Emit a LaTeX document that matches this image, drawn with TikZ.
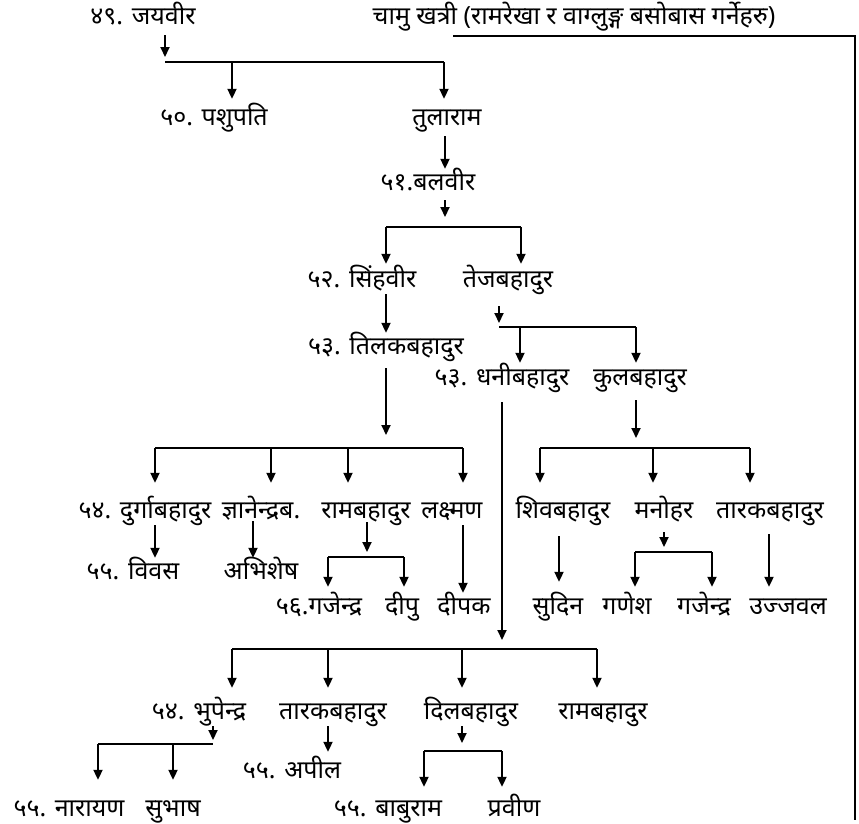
\documentclass[tikz,border=0pt]{standalone}
\usepackage{fontspec}
\newfontfamily\devfont[Script=Devanagari]{Noto Sans}
\usetikzlibrary{arrows.meta}

\begin{document}
\begin{tikzpicture}[
        x=1pt, y=-1pt,
        font=\devfont\fontsize{25}{28}\selectfont,
        person/.style={inner xsep=0pt, inner ysep=1.5pt, text height=20pt, text depth=5pt},
        arr/.style={line width=2pt, -{Triangle[width=9pt, length=10pt]}},
        bar/.style={line width=2pt}
    ]
        \useasboundingbox (0,0) rectangle (859,823);

        \node [person] (jay) at (143,17) {४९. जयवीर};
        \node [person] (chamu) at (574,17) {चामु खत्री (रामरेखा र वाग्लुङ्ग बसोबास गर्नेहरु)};
        \node [person] (pashu) at (214,118) {५०. पशुपति};
        \node [person] (tula) at (447,118) {तुलाराम};
        \node [person] (bal) at (428,183) {५१.बलवीर};
        \node [person] (sinha) at (362,280) {५२. सिंहवीर};
        \node [person] (teja) at (508,280) {तेजबहादुर};
        \node [person] (tilak) at (386,347) {५३. तिलकबहादुर};
        \node [person] (dhani) at (502,378) {५३. धनीबहादुर};
        \node [person] (kul) at (640,378) {कुलबहादुर};
        \node [person] (durga) at (145,511) {५४. दुर्गाबहादुर};
        \node [person] (gyan) at (261,511) {ज्ञानेन्द्रब.};
        \node [person] (ram) at (366,511) {रामबहादुर};
        \node [person] (lax) at (452,511) {लक्ष्मण};
        \node [person] (shiv) at (563,511) {शिवबहादुर};
        \node [person] (mano) at (664,511) {मनोहर};
        \node [person] (tarak) at (770,511) {तारकबहादुर};
        \node [person] (bibas) at (133,572) {५५. विवस};
        \node [person] (abhi) at (261,572) {अभिशेष};
        \node [person] (gaje) at (319,607) {५६.गजेन्द्र};
        \node [person] (dipu) at (402,607) {दीपु};
        \node [person] (dipak) at (464,607) {दीपक};
        \node [person] (sudin) at (558,607) {सुदिन};
        \node [person] (ganesh) at (627,607) {गणेश};
        \node [person] (gajendra) at (704,607) {गजेन्द्र};
        \node [person] (ujjwal) at (788,607) {उज्जवल};
        \node [person] (bhup) at (199,712) {५४. भुपेन्द्र};
        \node [person] (tarakb) at (333,712) {तारकबहादुर};
        \node [person] (dil) at (471,712) {दिलबहादुर};
        \node [person] (ramb) at (603,712) {रामबहादुर};
        \node [person] (apil) at (292,771) {५५. अपील};
        \node [person] (naray) at (69,809) {५५. नारायण};
        \node [person] (subhash) at (173,809) {सुभाष};
        \node [person] (baburam) at (388,809) {५५. बाबुराम};
        \node [person] (prabin) at (514,809) {प्रवीण};

        \coordinate (jayb) at (165,62);
        \coordinate (balb) at (445,227);
        \coordinate (tejab) at (499,327);
        \coordinate (tilakb) at (386,448);
        \coordinate (kulb) at (636,448);
        \coordinate (rambar) at (367,557);
        \coordinate (manob) at (664,552);
        \coordinate (dhanib) at (502,649);
        \coordinate (bhupb) at (213,744);
        \coordinate (dilb) at (462,751);
        \coordinate (cl) at (453,36);
        \coordinate (cb) at (855,820);

        \draw [bar] (cl) -| (cb);

        \draw [arr, shorten <=4pt] (jayb |- jay.south) -- ([yshift=5pt]jayb);
        \draw [bar] (jayb) -- (444,0 |- jayb);
        \foreach \x/\n in {232/pashu, 444/tula}
            \draw [arr, shorten >=5pt] (\x,0 |- jayb) -- (\x,0 |- \n.north);

        \draw [arr, shorten <=4pt] (balb |- tula.south) -- (balb |- bal.north);

        \draw [arr, shorten <=3pt] (balb |- bal.south) -- ([yshift=10pt]balb);
        \draw [bar] (386,0 |- balb) -- (521,0 |- balb);
        \foreach \x/\n in {386/sinha, 521/teja}
            \draw [arr, shorten >=2pt] (\x,0 |- balb) -- (\x,0 |- \n.north);

        \draw [arr] (tilakb |- sinha.south) -- (tilakb |- tilak.north);

        \draw [arr, shorten <=12pt] (tejab |- teja.south) -- ([yshift=4pt]tejab);
        \draw [bar] (tejab) -- (636,0 |- tejab);
        \foreach \x/\n in {520/dhani, 636/kul}
            \draw [arr, shorten >=1pt] (\x,0 |- tejab) -- (\x,0 |- \n.north);

        \draw [arr, shorten <=7pt] (tilakb |- tilak.south) -- ([yshift=13pt]tilakb);
        \draw [bar] (155,0 |- tilakb) -- (463,0 |- tilakb);
        \foreach \x/\n in {155/durga, 271/gyan, 348/ram, 463/lax}
            \draw [arr, shorten >=14pt] (\x,0 |- tilakb) -- (\x,0 |- \n.north);

        \draw [arr, shorten <=8pt] (kulb |- kul.south) -- ([yshift=10pt]kulb);
        \draw [bar] (540,0 |- kulb) -- (750,0 |- kulb);
        \foreach \x/\n in {540/shiv, 653/mano, 750/tarak}
            \draw [arr, shorten >=14pt] (\x,0 |- kulb) -- (\x,0 |- \n.north);

        \draw [arr] (155,0 |- durga.south) -- (155,0 |- bibas.north);
        \draw [arr, shorten <=-4pt] (253,0 |- gyan.south) -- (253,0 |- abhi.north);
        \draw [arr] (463,0 |- lax.south) -- (463,0 |- dipak.north);
        \draw [arr, shorten <=11pt, shorten >=11pt] (559,0 |- shiv.south) -- (559,0 |- sudin.north);
        \draw [arr, shorten <=9pt, shorten >=6pt] (769,0 |- tarak.south) -- (769,0 |- ujjwal.north);

        \draw [arr, shorten <=-3pt] (rambar |- ram.south) -- ([yshift=5pt]rambar);
        \draw [bar] (328,0 |- rambar) -- (404,0 |- rambar);
        \foreach \x/\n in {328/gaje, 404/dipu}
            \draw [arr, shorten >=6pt] (\x,0 |- rambar) -- (\x,0 |- \n.north);

        \draw [arr, shorten <=7pt] (manob |- mano.south) -- ([yshift=5pt]manob);
        \draw [bar] (635,0 |- manob) -- (712,0 |- manob);
        \foreach \x/\n in {635/ganesh, 712/gajendra}
            \draw [arr, shorten >=6pt] (\x,0 |- manob) -- (\x,0 |- \n.north);

        \draw [arr, shorten <=10pt] (dhanib |- dhani.south) -- ([yshift=9pt]dhanib);
        \draw [bar] (232,0 |- dhanib) -- (597,0 |- dhanib);
        \foreach \x/\n in {232/bhup, 328/tarakb, 462/dil, 597/ramb}
            \draw [arr, shorten >=10pt] (\x,0 |- dhanib) -- (\x,0 |- \n.north);

        \draw [arr] (bhupb |- bhup.south) -- ([yshift=4pt]bhupb);
        \draw [bar] (98,0 |- bhupb) -- (bhupb);
        \foreach \x/\n in {98/naray, 173/subhash}
            \draw [arr, shorten >=15pt] (\x,0 |- bhupb) -- (\x,0 |- \n.north);

        \draw [arr, shorten >=5pt] (328,0 |- tarakb.south) -- (328,0 |- apil.north);

        \draw [arr] (dilb |- dil.south) -- ([yshift=8pt]dilb);
        \draw [bar] (424,0 |- dilb) -- (502,0 |- dilb);
        \foreach \x/\n in {424/baburam, 502/prabin}
            \draw [arr, shorten >=8pt] (\x,0 |- dilb) -- (\x,0 |- \n.north);
    \end{tikzpicture}
\end{document}
